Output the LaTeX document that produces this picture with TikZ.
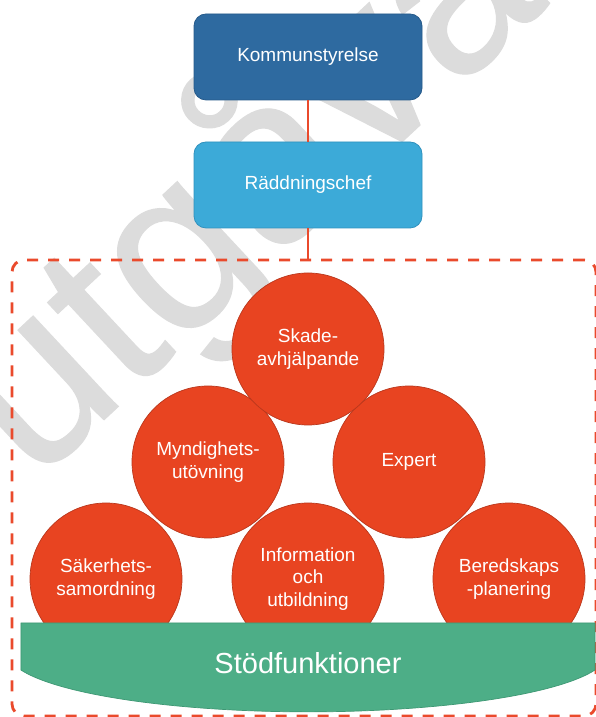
\documentclass[tikz,border=0pt]{standalone}
\usepackage{fontspec}
\setmainfont{Liberation Sans}
\newfontfamily\wmfont[FakeBold=0.5]{Liberation Sans}
\definecolor{kblue}{RGB}{46,106,160}
\definecolor{kblueb}{RGB}{38,90,138}
\definecolor{rblue}{RGB}{60,170,216}
\definecolor{rblueb}{RGB}{48,145,190}
\definecolor{cred}{RGB}{232,68,33}
\definecolor{credb}{RGB}{185,55,28}
\definecolor{lred}{RGB}{234,74,44}
\definecolor{sgreen}{RGB}{77,174,135}
\definecolor{sgreenb}{RGB}{62,152,116}
\definecolor{wmark}{RGB}{220,220,220}
\tikzset{
  orgbox/.style={rounded corners=12pt, minimum width=228pt, minimum height=86pt,
    inner sep=0pt, text=white, font=\fontsize{19}{22.5}\selectfont, line width=0.8pt},
  funccircle/.style={circle, minimum size=152pt, inner sep=0pt, fill=cred, draw=credb,
    line width=0.7pt, text=white, align=center, font=\fontsize{19}{22.5}\selectfont},
  redline/.style={draw=lred, line width=2pt},
  groupbox/.style={draw=lred, line width=2.8pt, dash pattern=on 11pt off 10pt,
    rounded corners=12pt, minimum width=584pt, minimum height=456pt, inner sep=0pt}
}
\begin{document}
\begin{tikzpicture}[x=1pt,y=1pt]
\useasboundingbox (0,0) rectangle (596,717);
\fill[white] (0,0) rectangle (596,717);
% watermark
\node[rotate=43, anchor=base west, inner sep=0pt, text=wmark,
  font=\wmfont\fontsize{235}{235}\selectfont] (wm) at (34,232) {utgåva};
% group frame
\node[groupbox] (grp) at (304,229) {};
% boxes
\node[orgbox, fill=kblue, draw=kblueb] (ks) at (308,660) {Kommunstyrelse};
\node[orgbox, fill=rblue, draw=rblueb] (rc) at (308,532) {Räddningschef};
\draw[redline] (ks.south) -- (rc.north);
\draw[redline] (rc.south) -- (rc.south |- grp.north);
% circles
\node[funccircle] (sak) at (106,138) {Säkerhets-\\samordning};
\node[funccircle] (inf) at (308,138) {Information\\och\\utbildning};
\node[funccircle] (ber) at (509,138) {Beredskaps\\-planering};
\node[funccircle] (myn) at (208,255) {Myndighets-\\utövning};
\node[funccircle] (exp) at (409,255) {Expert};
\node[funccircle] (ska) at (308,368) {Skade-\\avhjälpande};
% support base
\path[fill=sgreen, draw=sgreenb, line width=0.7pt]
  (21,94) -- (595,94) -- (595,47)
  arc[start angle=-16.9, end angle=-163.1, x radius=300, y radius=59] -- cycle;
\node[text=white, font=\fontsize{29}{32}\selectfont, inner sep=0pt] (stod) at (308,54) {Stödfunktioner};
\end{tikzpicture}
\end{document}
